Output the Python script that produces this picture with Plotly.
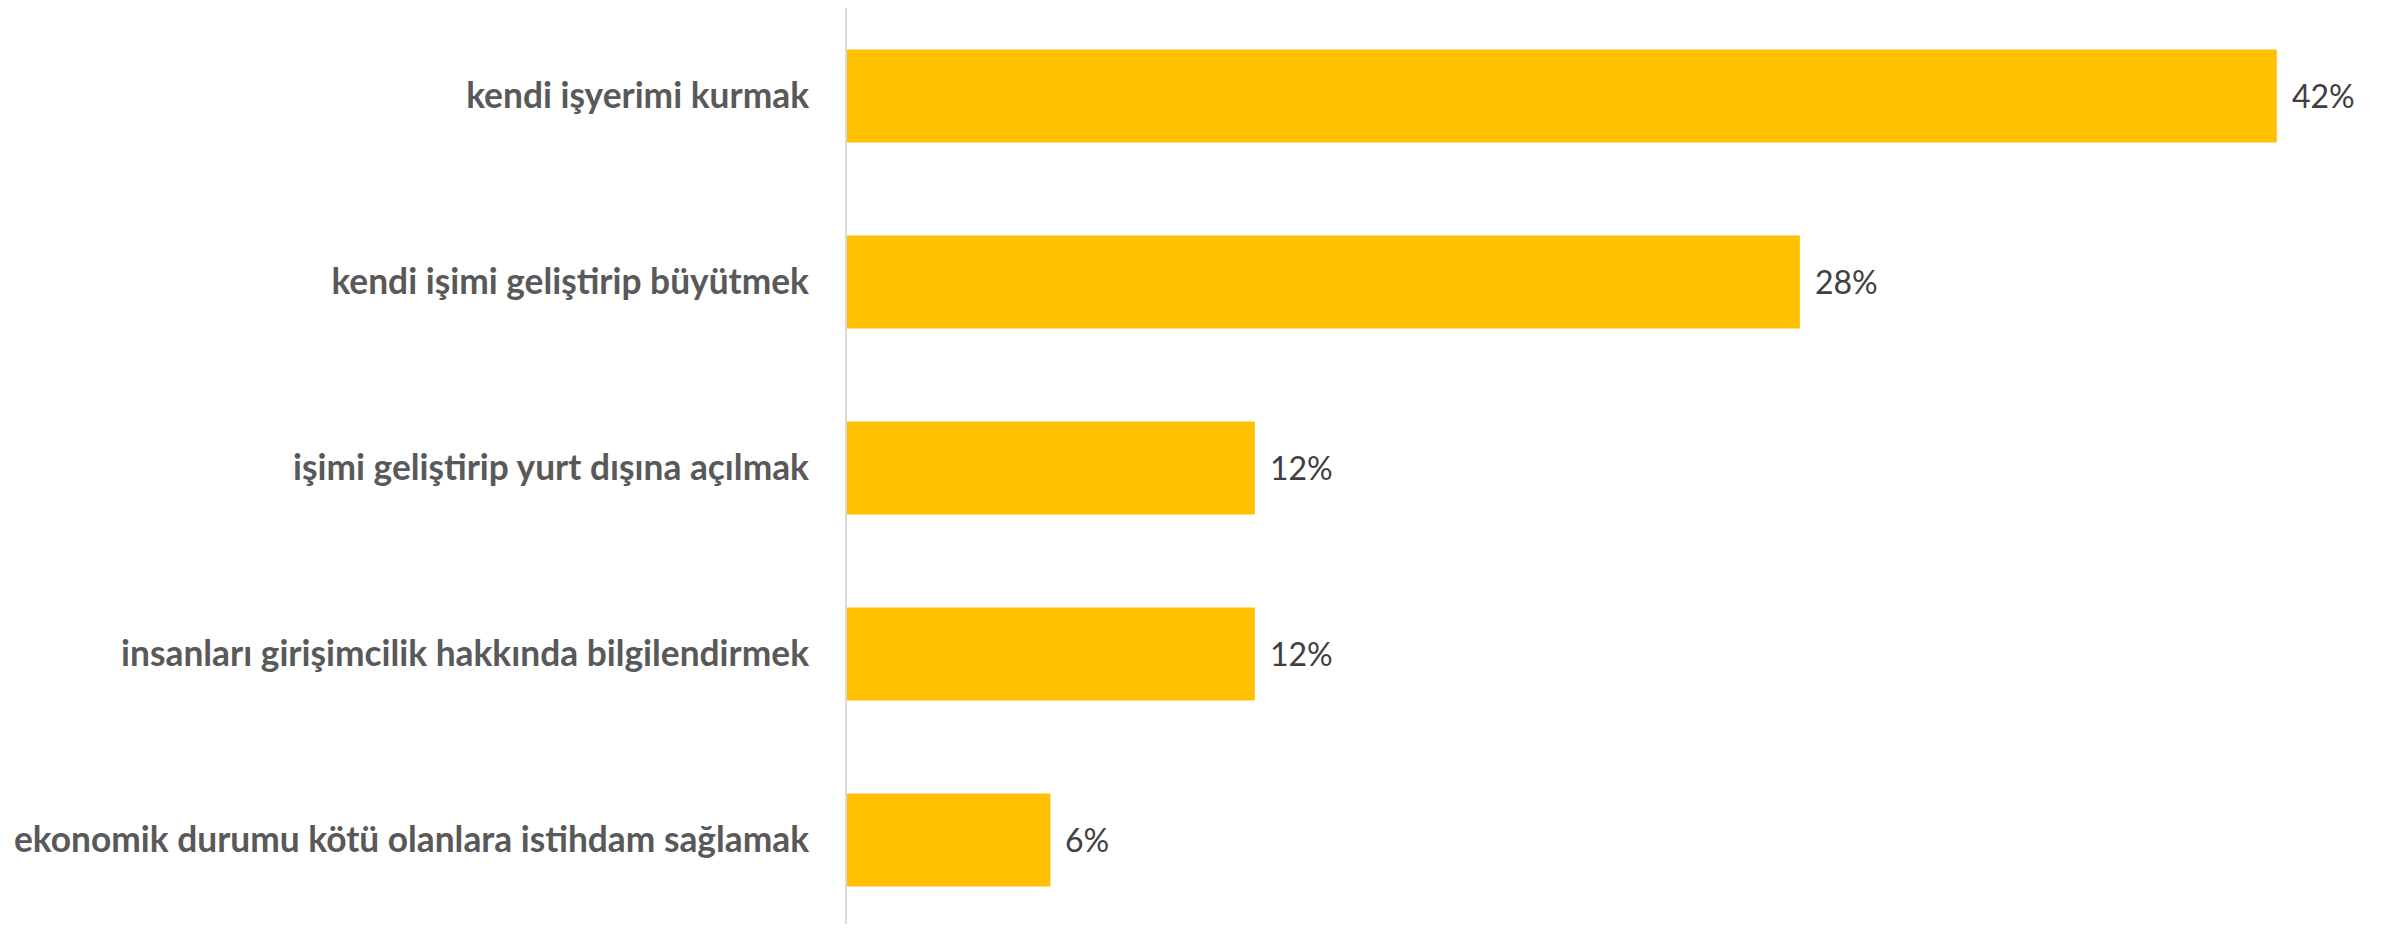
import plotly.graph_objects as go

categories = [
    "kendi işyerimi kurmak",
    "kendi işimi geliştirip büyütmek",
    "işimi geliştirip yurt dışına açılmak",
    "insanları girişimcilik hakkında bilgilendirmek",
    "ekonomik durumu kötü olanlara istihdam sağlamak",
]
values = [42, 28, 12, 12, 6]
value_labels = [f"{v}%" for v in values]

fig = go.Figure()
fig.add_trace(go.Bar(
    y=categories,
    x=values,
    orientation="h",
    marker=dict(color="#FFC000", line=dict(width=0)),
    hoverinfo="skip",
))

for c, v, t in zip(categories, values, value_labels):
    fig.add_annotation(
        x=v, y=c, text=t, showarrow=False, xanchor="left", xshift=13,
        font=dict(family="Lato", size=32, color="#404040"),
    )

fig.update_layout(
    width=2391, height=916,
    margin=dict(l=838, r=20, t=0, b=0, autoexpand=False),
    paper_bgcolor="white", plot_bgcolor="white",
    bargap=0.5,
    showlegend=False,
    xaxis=dict(range=[0, 45], visible=False, automargin=False),
    yaxis=dict(
        categoryorder="array", categoryarray=categories[::-1],
        range=[-0.452, 4.473],
        automargin=False,
        showline=False, showgrid=False, zeroline=False,
        ticks="", ticklabelstandoff=36,
        tickfont=dict(family="Lato", size=35.3, color="#595959", weight="bold"),
    ),
    shapes=[dict(type="line", xref="paper", yref="paper", x0=0, x1=0,
                 y0=-0.02, y1=1.02, line=dict(color="#D9D9D9", width=2))],
)

fig.write_html("out.html")
